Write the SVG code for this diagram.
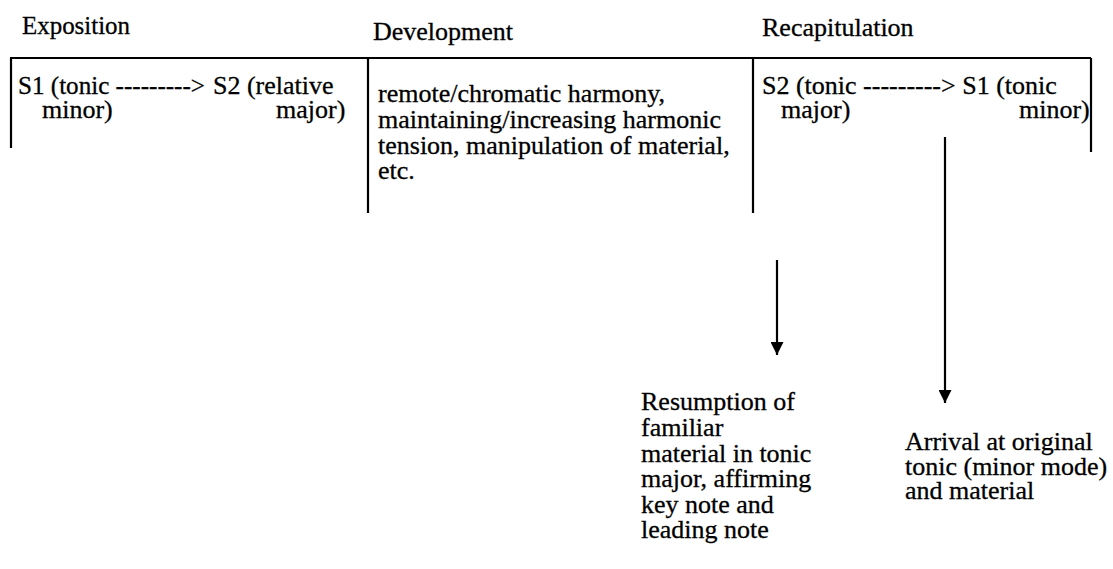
<svg xmlns="http://www.w3.org/2000/svg" width="1113" height="569" viewBox="0 0 1113 569">
<style>
text{font-family:'Liberation Serif','Times New Roman',serif;font-size:26px;fill:#000;stroke:#000;stroke-width:0.3}
.ln{stroke:#000;stroke-width:2.2;fill:none}
</style>
<defs>
<marker id="ah" markerWidth="13" markerHeight="13" refX="13" refY="6.5" orient="auto" markerUnits="userSpaceOnUse" viewBox="0 0 13 13">
<path d="M0,0 L13,6.5 L0,13 Z" fill="#000"/>
</marker>
</defs>
<rect width="1113" height="569" fill="#fff"/>
<g id="headings">
<text x="22" y="34" textLength="108" lengthAdjust="spacingAndGlyphs">Exposition</text>
<text x="373" y="40">Development</text>
<text x="762" y="36">Recapitulation</text>
</g>
<g id="frame">
<path class="ln" d="M10,58 L1091,58" stroke-width="2.6"/>
<path class="ln" d="M11,58 L11,148"/>
<path class="ln" d="M368,58 L368,213"/>
<path class="ln" d="M753,58 L753,213"/>
<path class="ln" d="M1091,58 L1091,152"/>
</g>
<g id="exposition">
<text><tspan x="18" y="94" textLength="187" lengthAdjust="spacingAndGlyphs">S1 (tonic ---------&gt;</tspan><tspan x="213" y="94">S2 (relative</tspan><tspan x="42" y="118">minor)</tspan><tspan x="276" y="118">major)</tspan></text>
</g>
<g id="development">
<text><tspan x="378" y="102">remote/chromatic harmony,</tspan><tspan x="378" y="128">maintaining/increasing harmonic</tspan><tspan x="378" y="154">tension, manipulation of material,</tspan><tspan x="378" y="179">etc.</tspan></text>
</g>
<g id="recapitulation">
<text><tspan x="762" y="94">S2 (tonic ---------&gt; S1 (tonic</tspan><tspan x="781" y="118">major)</tspan><tspan x="1019" y="118">minor)</tspan></text>
</g>
<g id="connectors">
<path class="ln" d="M777,260 L777,355" marker-end="url(#ah)"/>
<path class="ln" d="M945,137 L945,403" marker-end="url(#ah)"/>
</g>
<g id="resumption">
<text><tspan x="641" y="410">Resumption of</tspan><tspan x="641" y="436">familiar</tspan><tspan x="641" y="462">material in tonic</tspan><tspan x="641" y="487">major, affirming</tspan><tspan x="641" y="513">key note and</tspan><tspan x="641" y="538">leading note</tspan></text>
</g>
<g id="arrival">
<text><tspan x="905" y="450">Arrival at original</tspan><tspan x="905" y="475">tonic (minor mode)</tspan><tspan x="905" y="499">and material</tspan></text>
</g>
</svg>
